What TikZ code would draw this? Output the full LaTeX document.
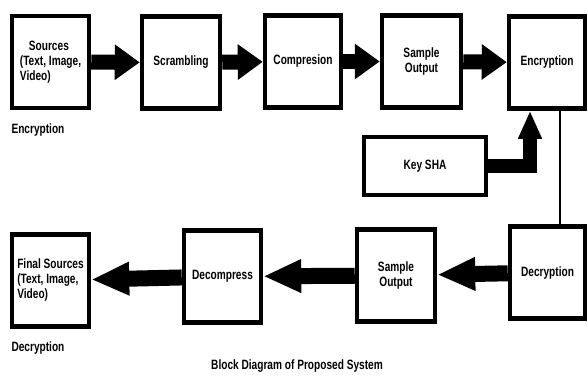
\documentclass[tikz,border=0pt]{standalone}
\usepackage{fontspec}
\setmainfont{Liberation Sans}[FakeStretch=0.75]
\usepackage{tikz}
\usetikzlibrary{arrows.meta}

\begin{document}
\begin{tikzpicture}[x=1pt, y=-1pt, font=\fontsize{13.5}{15}\selectfont\bfseries,
    block/.style = {draw, line width=4.5pt, minimum width=77pt, minimum height=92pt, inner sep=2pt},
    fat/.style = {line width=15pt, -{Triangle[length=25pt,width=34pt]}},
    fatback/.style = {line width=16pt, -{Triangle[length=38pt,width=31pt]}}]
    \useasboundingbox (0,0) rectangle (588,376);
    % encryption row
    \node[block] (src) at (50.5,62) {\begin{tabular}{@{}l@{}}\hspace{9pt}Sources\\(Text, Image,\\Video)\end{tabular}};
    \node[block, minimum width=78pt] (scr) at (181,62.5) {Scrambling};
    \node[block, minimum width=76pt] (cmp) at (303,61.5) {Compresion};
    \node[block, minimum width=79pt] (smp) at (421.5,61.5) {\begin{tabular}{@{}c@{}}Sample\\Output\end{tabular}};
    \node[block, minimum width=76pt] (enc) at (547,62.5) {Encryption};
    \node[block, minimum width=122pt, minimum height=58pt] (key) at (425,166) {Key SHA};
    \node[anchor=west] (lenc) at (8,130) {Encryption};
    % decryption row
    \node[block, minimum width=75pt] (dec) at (547.5,272.5) {Decryption};
    \node[block, minimum width=78pt] (smpb) at (396,275.5) {\begin{tabular}{@{}c@{}}Sample\\Output\end{tabular}};
    \node[block] (dcp) at (222.5,276.5) {Decompress};
    \node[block] (fin) at (50.5,280.5) {\begin{tabular}{@{}l@{}}Final Sources\\(Text, Image,\\Video)\end{tabular}};
    \node[anchor=west] (ldec) at (8,348) {Decryption};
    \node (cap) at (297,366) {Block Diagram of Proposed System};
    % connectors
    \draw[fat] (src) -- (scr);
    \draw[fat] (scr) -- (cmp);
    \draw[fat] (cmp) -- (smp);
    \draw[fat] (smp) -- (enc);
    \coordinate (kin) at ([xshift=-17pt]enc.south);
    \draw[line width=14pt, -{Triangle[length=28pt,width=22pt]}] (key.east) -| (kin);
    \coordinate (tap) at ([xshift=13pt]enc.south);
    \draw[line width=2pt] (tap) -- (tap |- dec.north);
    \draw[fatback] (dec) -- (smpb);
    \draw[fatback] (smpb) -- (dcp);
    \draw[fatback] (dcp) -- (fin);
\end{tikzpicture}
\end{document}
